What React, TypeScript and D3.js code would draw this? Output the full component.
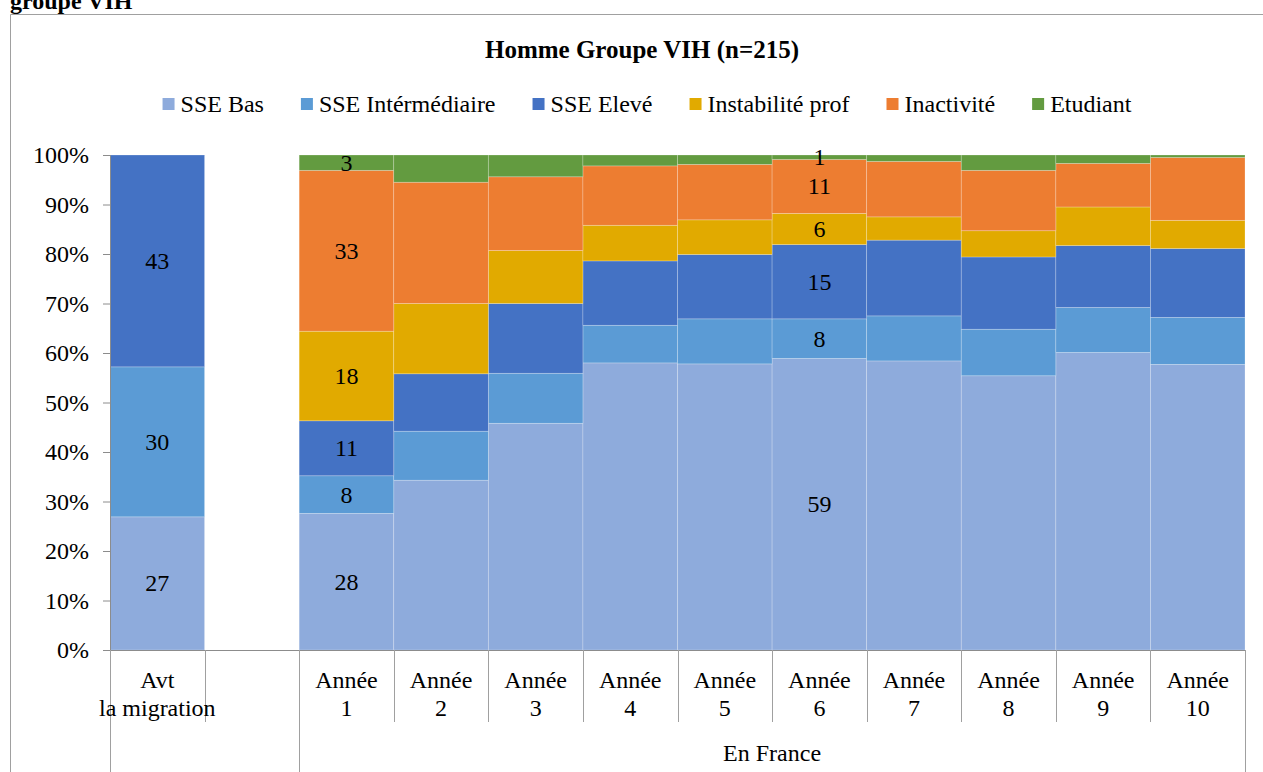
import React, { useEffect, useRef } from 'react';
import * as d3 from 'd3';

// categories (two-line labels) and groups of the multi-level axis
const categories = ['Avt|la migration', '', 'Année|1', 'Année|2', 'Année|3', 'Année|4', 'Année|5', 'Année|6', 'Année|7', 'Année|8', 'Année|9', 'Année|10'];
const groupLabels = ['', 'En France'];
const groupStarts = [0, 2];

const seriesNames = ['SSE Bas', 'SSE Intérmédiaire', 'SSE Elevé', 'Instabilité prof', 'Inactivité', 'Etudiant'];
const seriesColors = ['#8EABDC', '#5B9BD5', '#4472C4', '#E1AA00', '#ED7D31', '#639B40'];

// percentages
const sseBas = [26.9, 0, 27.6, 34.3, 45.8, 58.0, 57.8, 58.9, 58.4, 55.4, 60.1, 57.7];
const sseInter = [30.3, 0, 7.6, 9.9, 10.1, 7.6, 9.1, 8.0, 9.1, 9.4, 9.1, 9.5];
const sseEleve = [42.8, 0, 11.1, 11.6, 14.1, 13.0, 13.0, 15.0, 15.3, 14.6, 12.5, 13.9];
const instab = [0, 0, 18.1, 14.2, 10.7, 7.2, 7.0, 6.3, 4.7, 5.3, 7.8, 5.7];
const inact = [0, 0, 32.5, 24.5, 14.9, 12.0, 11.2, 10.9, 11.2, 12.2, 8.8, 12.7];
const etud = [0, 0, 3.1, 5.5, 4.4, 2.2, 1.9, 0.9, 1.3, 3.1, 1.7, 0.5];

// only these bars carry value labels
const labelledBars = [0, 2, 7];

const FONT = '"Liberation Serif", "Times New Roman", serif';
const FS = 24;

const App: React.FC = () => {
  const svgRef = useRef<SVGSVGElement>(null);

  const width = 1263;
  const height = 772;
  const left = 110;
  const right = 1245;
  const top = 155;
  const bottom = 650;

  useEffect(() => {
    if (!svgRef.current) return;
    const svg = d3.select(svgRef.current);
    svg.selectAll('*').remove();

    const allSeries = [sseBas, sseInter, sseEleve, instab, inact, etud];
    const rows = categories.map((c, i) => {
      const r: any = { idx: i };
      seriesNames.forEach((s, k) => { r[s] = allSeries[k][i]; });
      return r;
    });

    const stacked = d3.stack<any>().keys(seriesNames)(rows);

    const x = d3.scaleBand<number>()
      .domain(categories.map((_, i) => i))
      .range([left, right])
      .padding(0);

    const y = d3.scaleLinear().domain([0, 100]).range([bottom, top]);

    // outer chart border
    svg.append('path')
      .attr('d', `M10.5,${height} V14.5 H${width}`)
      .attr('fill', 'none')
      .attr('stroke', '#a0a0a0')
      .attr('stroke-width', 1);

    // heading of the surrounding text, cut by the page top
    svg.append('text')
      .text('groupe VIH')
      .attr('x', 10)
      .attr('y', 9)
      .attr('font-family', FONT)
      .attr('font-size', 24)
      .attr('font-weight', 'bold')
      .attr('fill', '#000');

    // title
    svg.append('text')
      .text('Homme Groupe VIH (n=215)')
      .attr('x', 642)
      .attr('y', 58)
      .attr('text-anchor', 'middle')
      .attr('font-family', FONT)
      .attr('font-size', 25)
      .attr('font-weight', 'bold')
      .attr('fill', '#000');

    // stacked bars
    stacked.forEach((layer, k) => {
      svg.append('g')
        .selectAll('rect')
        .data(layer.filter(d => d[1] - d[0] > 0))
        .join('rect')
        .attr('x', d => x(d.data.idx)!)
        .attr('width', x.bandwidth())
        .attr('y', d => y(d[1]))
        .attr('height', d => y(d[0]) - y(d[1]))
        .attr('fill', seriesColors[k])
        .attr('stroke', '#ffffff')
        .attr('stroke-opacity', 0.3)
        .attr('stroke-width', 0.75);
    });

    // value labels
    stacked.forEach(layer => {
      svg.append('g')
        .selectAll('text')
        .data(layer.filter(d => labelledBars.includes(d.data.idx) && d[1] - d[0] > 0))
        .join('text')
        .text(d => String(Math.round(d[1] - d[0])))
        .attr('x', d => x(d.data.idx)! + x.bandwidth() / 2)
        .attr('y', d => y((d[0] + d[1]) / 2) + 8)
        .attr('text-anchor', 'middle')
        .attr('font-family', FONT)
        .attr('font-size', FS)
        .attr('fill', '#000');
    });

    // y axis
    const yAxis = svg.append('g')
      .attr('transform', `translate(${left},0)`)
      .call(d3.axisLeft(y).tickValues(d3.range(0, 101, 10)).tickFormat(d => `${d}%`).tickSize(7).tickPadding(14));
    yAxis.select('.domain').attr('stroke', '#8c8c8c');
    yAxis.selectAll('.tick line').attr('stroke', '#8c8c8c');
    yAxis.selectAll('.tick text')
      .attr('font-family', FONT)
      .attr('font-size', FS)
      .attr('fill', '#000')
      .attr('dy', '0.33em');

    // category axis line
    svg.append('line')
      .attr('x1', left).attr('x2', right)
      .attr('y1', bottom + 0.5).attr('y2', bottom + 0.5)
      .attr('stroke', '#8c8c8c');

    // separators: short between categories, long at group edges
    const edges = d3.range(categories.length + 1);
    svg.append('g')
      .selectAll('line')
      .data(edges)
      .join('line')
      .attr('x1', i => Math.round(i < categories.length ? x(i)! : right) + 0.5)
      .attr('x2', i => Math.round(i < categories.length ? x(i)! : right) + 0.5)
      .attr('y1', bottom)
      .attr('y2', i => (i === 0 || i === categories.length || groupStarts.includes(i)) ? height : 722)
      .attr('stroke', '#a0a0a0');

    // category labels
    const catG = svg.append('g');
    categories.forEach((c, i) => {
      const lines = c.split('|');
      lines.forEach((ln, j) => {
        if (!ln) return;
        catG.append('text')
          .text(ln)
          .attr('x', x(i)! + x.bandwidth() / 2)
          .attr('y', 688 + j * 28)
          .attr('text-anchor', 'middle')
          .attr('font-family', FONT)
          .attr('font-size', FS)
          .attr('fill', '#000');
      });
    });

    // group labels
    groupLabels.forEach((g, k) => {
      if (!g) return;
      const start = groupStarts[k];
      const end = k + 1 < groupStarts.length ? groupStarts[k + 1] : categories.length;
      const x0 = x(start)!;
      const x1 = end < categories.length ? x(end)! : right;
      svg.append('text')
        .text(g)
        .attr('x', (x0 + x1) / 2)
        .attr('y', 761)
        .attr('text-anchor', 'middle')
        .attr('font-family', FONT)
        .attr('font-size', FS)
        .attr('fill', '#000');
    });

    // legend, measured and centred
    const legend = svg.append('g');
    const items = seriesNames.map((name, k) => {
      const g = legend.append('g');
      g.append('rect')
        .attr('width', 12).attr('height', 12)
        .attr('y', -6)
        .attr('fill', seriesColors[k]);
      const t = g.append('text')
        .text(name)
        .attr('x', 18)
        .attr('y', 8)
        .attr('font-family', FONT)
        .attr('font-size', FS)
        .attr('fill', '#000');
      const w = 18 + (t.node() as SVGTextElement).getComputedTextLength();
      return { g, w };
    });
    const gap = 37;
    const total = d3.sum(items, d => d.w) + gap * (items.length - 1);
    let cx = 647 - total / 2;
    items.forEach(it => {
      it.g.attr('transform', `translate(${cx},104)`);
      cx += it.w + gap;
    });
  }, []);

  return (
    <div style={{ position: 'fixed', left: 0, top: 0, width, height, background: '#fff' }}>
      <svg ref={svgRef} width={width} height={height} viewBox={`0 0 ${width} ${height}`} />
    </div>
  );
};

export default App;
